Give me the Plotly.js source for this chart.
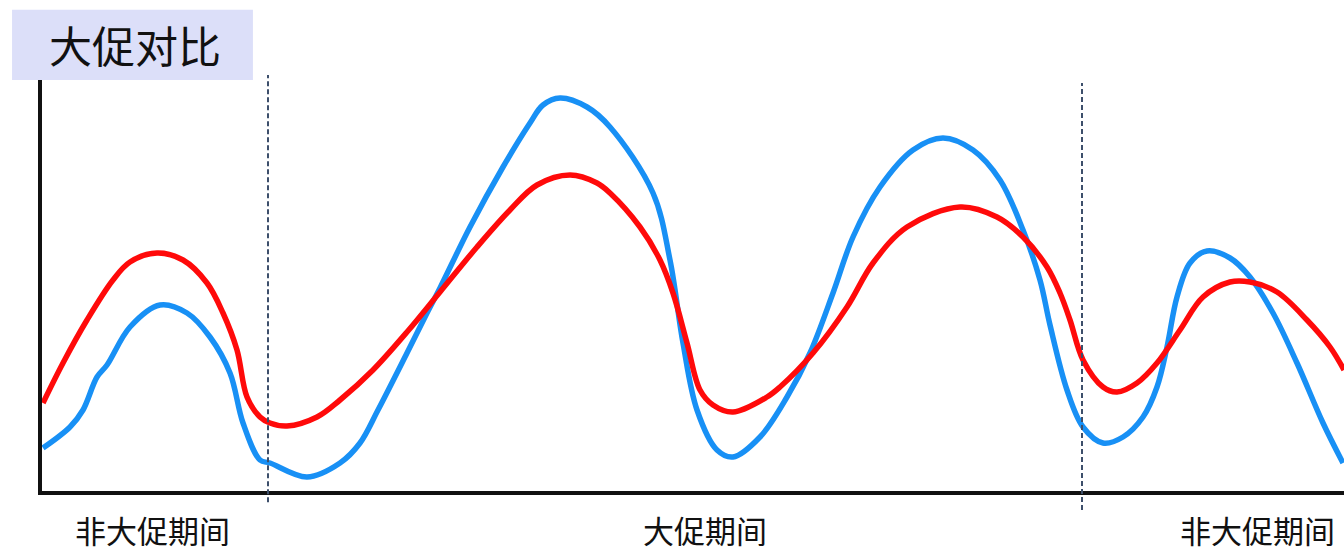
<!DOCTYPE html>
<html>
<head>
<meta charset="utf-8">
<script src="https://cdn.plot.ly/plotly-3.0.1.min.js"></script>
<style>html,body{margin:0;padding:0;background:#fff;}#chart{width:1344px;height:554px;}</style>
</head>
<body>
<div id="chart"></div>
<script>
// Blue series (time position, value)
const blueX = [0.3, 3.0, 4.3, 5.7, 6.7, 9.0, 12.0, 14.7, 17.0, 19.0, 20.3, 22.0, 23.0, 26.7, 30.0, 32.0, 33.8, 36.7, 38.7, 40.0, 43.0, 46.3, 49.0, 50.3, 52.0, 54.7, 57.0, 61.3, 63.0, 64.3, 65.7, 67.7, 69.3, 72.0, 74.7, 77.0, 79.3, 81.3, 84.0, 87.3, 90.3, 93.3, 96.0, 98.3, 100.0, 101.0, 102.7, 104.3, 106.3, 108.3, 110.3, 111.7, 112.7, 113.7, 115.0, 116.7, 119.0, 121.0, 123.3, 125.7, 128.3, 130.3];
const blueY = [11.25, 16.5, 20.75, 29, 32, 41.5, 47, 45, 39, 30, 17.5, 8.25, 7.5, 4, 7.5, 12.5, 20.75, 35, 45, 51.25, 66.5, 81.5, 92.5, 97, 98.75, 96.5, 91.5, 75, 58.25, 37.5, 20.75, 10.75, 9, 14, 24, 35, 50, 64, 76.5, 85.75, 88.75, 85.75, 78.25, 65.75, 53.25, 42, 25.75, 16.5, 12.5, 14, 19, 26.5, 36.5, 49, 57.5, 60.5, 58.75, 54, 45, 32.5, 17.5, 7.5];
// Red series
const redX = [0.3, 2.3, 4.7, 7.3, 9.0, 11.7, 14.3, 16.7, 18.3, 19.7, 20.7, 22.0, 23.0, 24.7, 27.7, 30.0, 33.3, 36.7, 40.0, 43.7, 47.0, 49.7, 53.0, 55.7, 57.0, 60.0, 62.0, 63.3, 64.7, 66.0, 67.3, 69.3, 72.7, 74.0, 77.3, 80.7, 83.3, 86.7, 92.0, 95.7, 98.3, 100.7, 102.0, 103.0, 104.3, 106.3, 107.7, 109.7, 111.7, 114.0, 116.3, 119.0, 121.0, 123.7, 126.7, 129.0, 130.4];
const redY = [22.5, 32.5, 43.25, 53.25, 57.75, 60, 58.25, 52.5, 45, 35.75, 24, 19, 17.5, 16.75, 19, 23.25, 30.75, 40.25, 50.25, 61.5, 70.75, 77, 79.5, 77.5, 75, 66.5, 58.25, 50, 37.5, 25.75, 22, 20.25, 24, 26.5, 35, 46.5, 57.5, 66.5, 71.5, 69, 64, 56.5, 50, 43.25, 33.25, 26.5, 25.25, 27.5, 32.5, 40.75, 49, 52.75, 52.75, 50.25, 43.25, 36.5, 30.75];
// Period boundaries and labels
const periodBounds = [22.8, 104.2];
const periodLabels = ['非大促期间', '大促期间', '非大促期间'];
const periodLabelX = [11.2, 66.5, 121.7];
const chartTitle = '大促对比';

const FONT = '"Noto Sans CJK SC", "Noto Sans", sans-serif';

const traces = [
  {x: blueX, y: blueY, type: 'scatter', mode: 'lines', line: {color: '#1890f5', width: 5.5, shape: 'spline', smoothing: 1}, hoverinfo: 'skip'},
  {x: redX, y: redY, type: 'scatter', mode: 'lines', line: {color: '#ff0a0a', width: 5.5, shape: 'spline', smoothing: 1}, hoverinfo: 'skip'}
];

const boundExt = [[-0.027, 1.007], [-0.046, 0.988]];
const shapes = periodBounds.map((b, i) => ({
  type: 'line', xref: 'x', yref: 'paper', x0: b, x1: b, y0: boundExt[i][0], y1: boundExt[i][1],
  line: {color: '#3d4f6b', width: 2, dash: '5px,3px'}, layer: 'above'
}));
shapes.push({type: 'rect', xref: 'paper', yref: 'paper', x0: -0.023, x1: 0.162, y0: 0.995, y1: 1.165,
  fillcolor: '#dcdff9', line: {width: 0}, layer: 'above'});

const annotations = periodLabels.map((t, i) => ({
  text: t, x: periodLabelX[i], xref: 'x', y: -0.094, yref: 'paper', xanchor: 'center', yanchor: 'middle',
  showarrow: false, borderpad: 0, font: {family: FONT, size: 31, color: '#111'}
}));
annotations.push({text: chartTitle, x: 0.0714, xref: 'paper', y: 1.082, yref: 'paper', xanchor: 'center', yanchor: 'middle',
  showarrow: false, font: {family: FONT, size: 43, color: '#111'}});

const layout = {
  width: 1344, height: 554,
  margin: {l: 42, r: 0, t: 78, b: 63},
  paper_bgcolor: '#ffffff', plot_bgcolor: '#ffffff',
  showlegend: false,
  xaxis: {range: [0.2, 130.4], showline: true, linecolor: '#111', linewidth: 4, showgrid: false, zeroline: false, showticklabels: false, ticks: ''},
  yaxis: {range: [0.5, 103.75], showline: true, linecolor: '#111', linewidth: 4, showgrid: false, zeroline: false, showticklabels: false, ticks: ''},
  shapes: shapes,
  annotations: annotations
};

Plotly.newPlot('chart', traces, layout, {displayModeBar: false, staticPlot: true});
</script>
</body>
</html>
